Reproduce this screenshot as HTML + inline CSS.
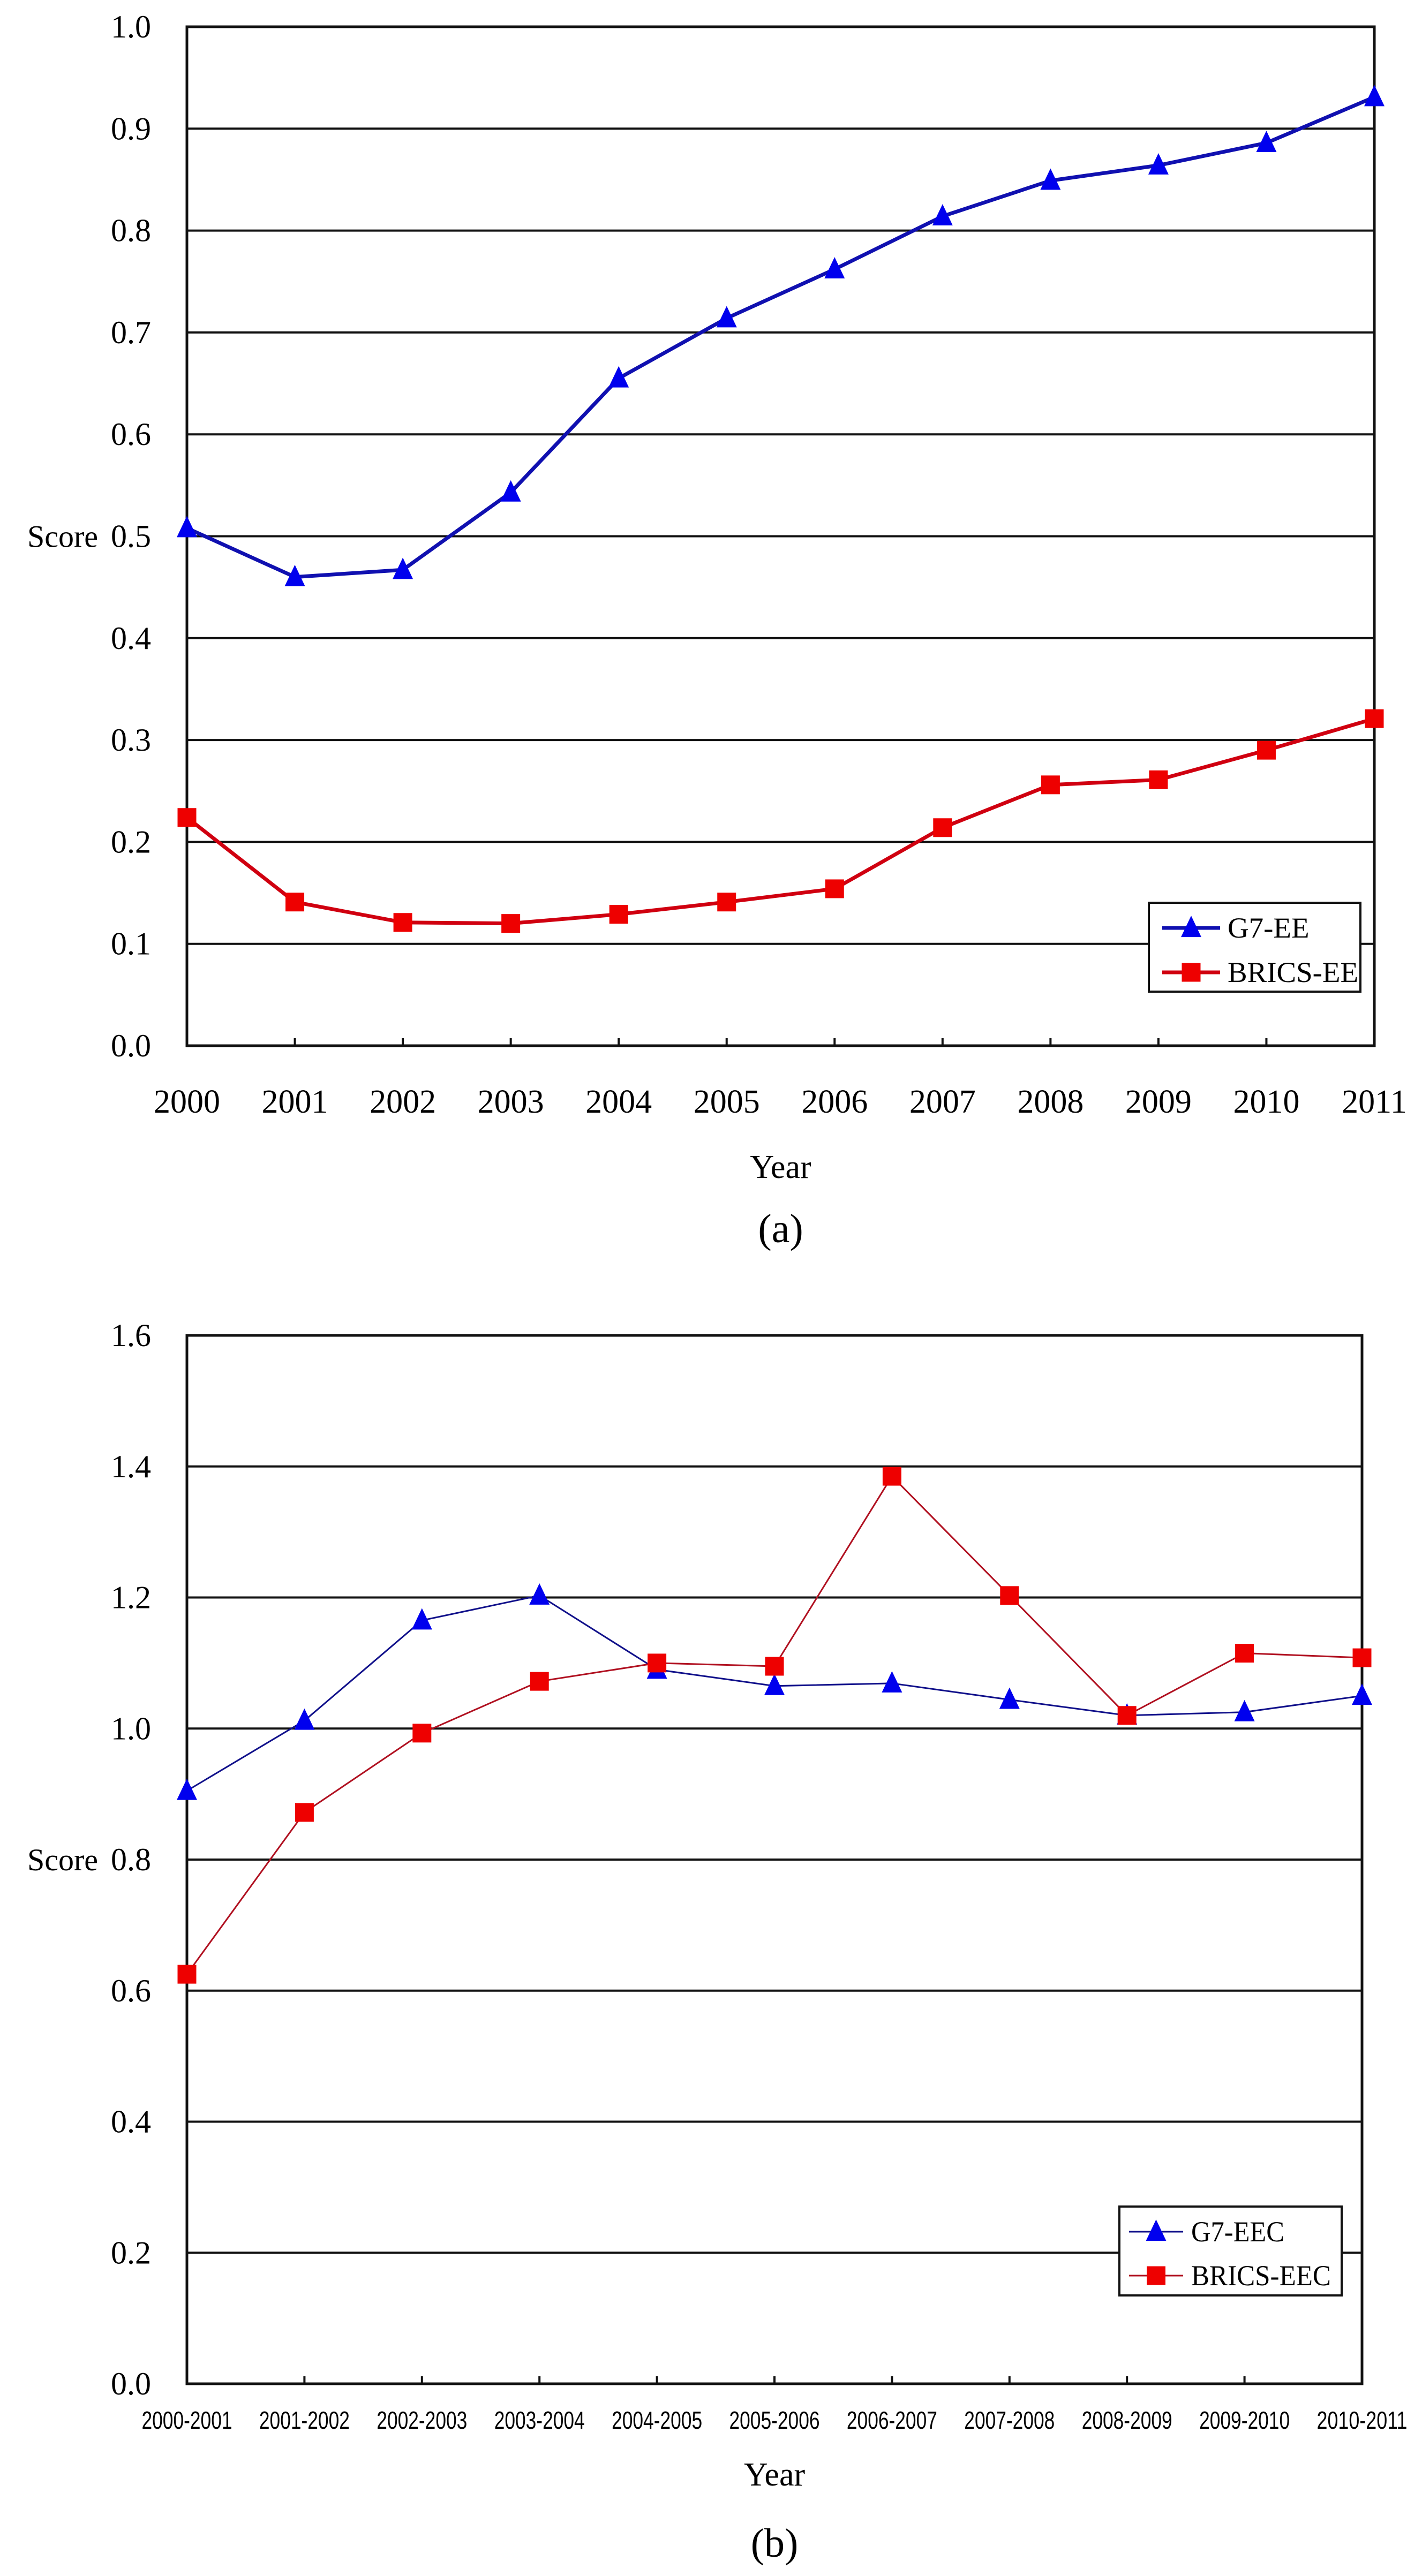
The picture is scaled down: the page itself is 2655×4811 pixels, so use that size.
<!DOCTYPE html>
<html><head><meta charset="utf-8"><style>
html,body{margin:0;padding:0;background:#fff;}
svg{display:block;}
text{font-family:"Liberation Serif",serif;fill:#000;}
</style></head><body>
<svg id="fig" width="2655" height="4811" viewBox="0 0 2655 4811" xmlns="http://www.w3.org/2000/svg"></svg>
<script>
const yearsA = ["2000","2001","2002","2003","2004","2005","2006","2007","2008","2009","2010","2011"];
const g7EE = [0.508,0.460,0.467,0.543,0.655,0.714,0.762,0.814,0.849,0.864,0.886,0.931];
const bricsEE = [0.224,0.141,0.121,0.120,0.129,0.141,0.154,0.214,0.256,0.261,0.290,0.321];
const ticksA = ["0.0","0.1","0.2","0.3","0.4","0.5","0.6","0.7","0.8","0.9","1.0"];
const periodsB = ["2000-2001","2001-2002","2002-2003","2003-2004","2004-2005","2005-2006","2006-2007","2007-2008","2008-2009","2009-2010","2010-2011"];
const g7EEC = [0.905,1.012,1.165,1.203,1.090,1.065,1.069,1.044,1.020,1.025,1.050];
const bricsEEC = [0.625,0.872,0.993,1.072,1.100,1.095,1.385,1.203,1.020,1.115,1.108];
const ticksB = ["0.0","0.2","0.4","0.6","0.8","1.0","1.2","1.4","1.6"];

const NS="http://www.w3.org/2000/svg";
const svg=document.getElementById('fig');
function mk(tag,attrs,parent,text){const e=document.createElementNS(NS,tag);for(const k in attrs)e.setAttribute(k,attrs[k]);if(text!==undefined)e.textContent=text;(parent||svg).appendChild(e);return e;}

function tri(g,cx,cy,s,color){return mk('polygon',{points:`${cx},${cy-s*0.6} ${cx-s/2},${cy+s*0.45} ${cx+s/2},${cy+s*0.45}`,fill:color},g);}
function sq(g,cx,cy,s,color){return mk('rect',{x:cx-s/2,y:cy-s/2,width:s,height:s,fill:color},g);}

function chart(cfg){
  const g=mk('g',{});
  
  
  const L=cfg.left,R=cfg.right,T=cfg.top,B=cfg.bottom;
  const n=cfg.cats.length;
  const xs=i=>L+(R-L)*i/(n-1);
  const ys=v=>B-(B-T)*(v-cfg.ymin)/(cfg.ymax-cfg.ymin);
  cfg.ticks.forEach(t=>{
    const v=parseFloat(t),y=ys(v);
    const gl=mk('line',{x1:L,x2:R,y1:y,y2:y,stroke:'#111','stroke-width':4},g);
    
    
    const tl=mk('text',{x:282,y:y+20,'font-size':60,'text-anchor':'end'},g,t);
    
    
  });
  const fr=mk('rect',{x:L,y:T,width:R-L,height:B-T,fill:'none',stroke:'#111','stroke-width':5},g);
  
  
  cfg.cats.forEach((c,i)=>{
    const x=xs(i);
    const tk=mk('line',{x1:x,x2:x,y1:B-14,y2:B,stroke:'#111','stroke-width':4},g);
    
    
    const attrs={x:x,y:cfg.xlabY,'font-size':cfg.xlabSize,'text-anchor':'middle'};
    if(cfg.xlabLen){attrs.textLength=cfg.xlabLen;attrs.lengthAdjust='spacingAndGlyphs';attrs.style='font-family:"Liberation Sans",sans-serif';}
    const xl=mk('text',attrs,g,c);
    
    
  });
  cfg.series.forEach(s=>{
    const sg=mk('g',{},g);
    
    
    const pts=s.values.map((v,i)=>xs(i)+','+ys(v)).join(' ');
    const pl=mk('polyline',{points:pts,fill:'none',stroke:s.line,'stroke-width':cfg.lw,'stroke-linejoin':'round'},sg);
    
    
    s.values.forEach((v,i)=>{
      const m=s.marker==='tri'?tri(sg,xs(i),ys(v),38,s.color):sq(sg,xs(i),ys(v),35,s.color);
      
      
    });
  });
  const sc=mk('text',{x:183,y:ys(cfg.scoreAt)+20,'font-size':58,'text-anchor':'end'},g,'Score');
  
  
  const yr=mk('text',{x:(L+R)/2,y:cfg.yearY+20,'font-size':62,'text-anchor':'middle'},g,'Year');
  
  
  const cap=mk('text',{x:(L+R)/2,y:cfg.capY+25,'font-size':76,'text-anchor':'middle'},g,cfg.caption);
  
  
  const lg=mk('g',{},g);
  
  
  const Lg=cfg.legend;
  mk('rect',{x:Lg.x,y:Lg.y,width:Lg.w,height:Lg.h,fill:'#fff',stroke:'#111','stroke-width':4},lg);
  cfg.series.forEach((s,i)=>{
    const ey=Lg.rows[i];
    const en=mk('g',{},lg);
    
    
    mk('line',{x1:Lg.lx1,x2:Lg.lx2,y1:ey,y2:ey,stroke:s.line,'stroke-width':cfg.lw},en);
    if(s.marker==='tri')tri(en,(Lg.lx1+Lg.lx2)/2,ey,38,s.color);else sq(en,(Lg.lx1+Lg.lx2)/2,ey,35,s.color);
    mk('text',{x:Lg.tx,y:ey+18,'font-size':54,textLength:s.label.length*Lg.cw,lengthAdjust:'spacingAndGlyphs'},en,s.label);
  });
}

chart({name:'chart-a',left:349,right:2566,top:50,bottom:1953,ymin:0,ymax:1,cats:yearsA,ticks:ticksA,
  xlabY:2078,xlabSize:62,lw:7,scoreAt:0.5,yearY:2180,capY:2295,caption:'(a)',
  series:[{name:'g7-ee',label:'G7-EE',values:g7EE,color:'#0000ee',line:'#1010b0',marker:'tri'},
          {name:'brics-ee',label:'BRICS-EE',values:bricsEE,color:'#ee0000',line:'#d00010',marker:'sq'}],
  legend:{x:2145,y:1686,w:395,h:166,rows:[1733,1816],lx1:2170,lx2:2278,tx:2292,cw:30.5}});

chart({name:'chart-b',left:349,right:2543,top:2494,bottom:4452,ymin:0,ymax:1.6,cats:periodsB,ticks:ticksB,
  xlabY:4536,xlabSize:46,xlabLen:169,lw:3,scoreAt:0.8,yearY:4622,capY:4750,caption:'(b)',
  series:[{name:'g7-eec',label:'G7-EEC',values:g7EEC,color:'#0000ee',line:'#10108a',marker:'tri'},
          {name:'brics-eec',label:'BRICS-EEC',values:bricsEEC,color:'#ee0000',line:'#b01020',marker:'sq'}],
  legend:{x:2090,y:4121,w:415,h:166,rows:[4168,4250],lx1:2108,lx2:2209,tx:2224,cw:29}});
</script>
</body></html>
